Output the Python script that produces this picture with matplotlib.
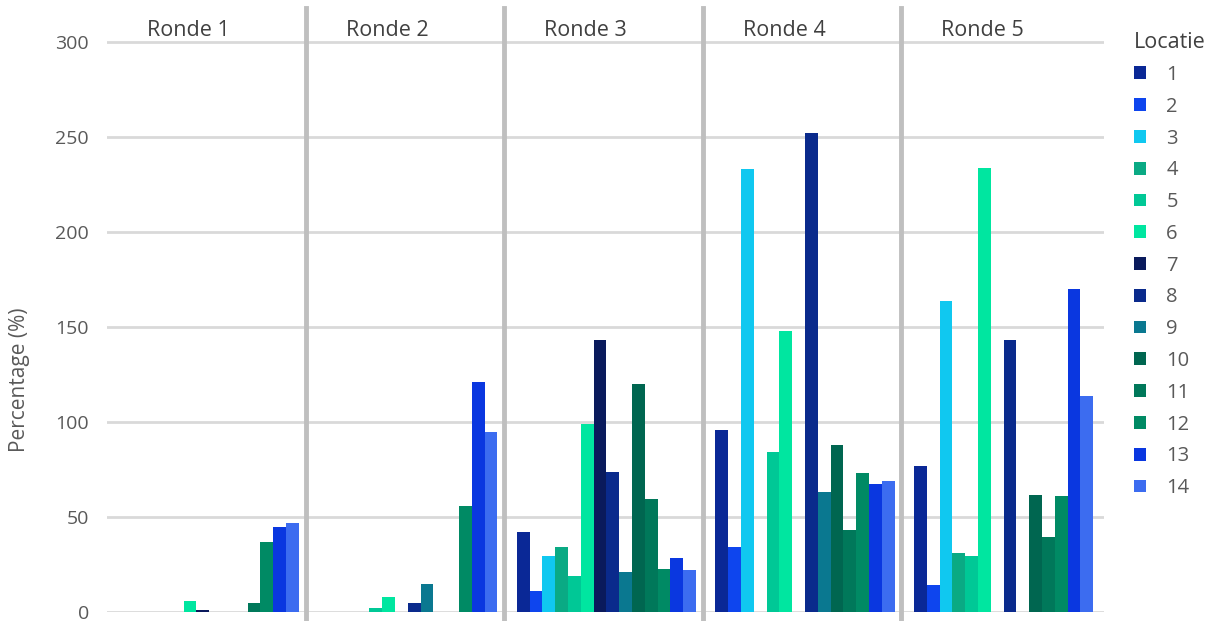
import numpy as np
import matplotlib.pyplot as plt

plt.rcParams['font.family'] = ['Open Sans', 'DejaVu Sans']

rondes = ["Ronde 1", "Ronde 2", "Ronde 3", "Ronde 4", "Ronde 5"]
locaties = [str(i) for i in range(1, 15)]

# percentage per locatie (1..14) for each ronde
ronde1 = [0, 0, 0, 0, 0, 6, 1, 0, 0, 0, 4.5, 37, 44.5, 47]
ronde2 = [0, 0, 0, 0, 2, 8, 0, 5, 15, 0, 0, 56, 121, 95]
ronde3 = [42, 11, 29.5, 34, 19, 99, 143, 73.5, 21, 120, 59.5, 22.5, 28.5, 22]
ronde4 = [96, 34, 233, 0, 84, 148, 0, 252, 63, 88, 43, 73, 67.5, 69]
ronde5 = [77, 14, 164, 31, 29.5, 233.5, 0, 143, 0, 61.5, 39.5, 61, 170, 113.5]

colors = ["#0a2896", "#0e45ee", "#10c8f0", "#0aaa84", "#00c896", "#00e6a0",
          "#0a1a5c", "#0a2a8c", "#0a7890", "#006650", "#00785a", "#008a64",
          "#0a37e0", "#3c6cf0"]

data = np.array([ronde1, ronde2, ronde3, ronde4, ronde5])

fig = plt.figure(figsize=(12.08, 6.21), dpi=100)
ax = fig.add_axes([107/1208, 9/621, 997/1208, 604/621])

w = 0.0645
start = 0.063
for j in range(len(locaties)):
    x = np.arange(len(rondes)) + start + (j + 0.5) * w
    ax.bar(x, data[:, j], width=w, color=colors[j], label=locaties[j],
           zorder=3)

ax.set_xlim(0, 5.02)
ax.set_ylim(0, 318)
ax.set_yticks([0, 50, 100, 150, 200, 250, 300])
ax.set_xticks([])
ax.grid(True, axis='y', color='#d9d9d9', linewidth=2, zorder=0)
for s in ax.spines.values():
    s.set_visible(False)
ax.tick_params(axis='y', length=0, pad=13, labelsize=14, labelcolor='#595959')

# dividers between rounds
for i in range(1, 5):
    ax.plot([i, i], [-4.5, 318], color='#bfbfbf', linewidth=3.5, zorder=4,
            clip_on=False)

for i, r in enumerate(rondes):
    ax.text(i + 0.41, 306, r, ha='center', va='center', fontsize=15.5,
            color='#404040')

ax.set_ylabel("Percentage (%)", fontsize=15, color='#595959')
ax.yaxis.set_label_coords(-0.077, 0.385)

leg = ax.legend(title="Locatie", loc='upper left', bbox_to_anchor=(1.012, 0.99),
                frameon=False, fontsize=14.5, title_fontsize=15.5,
                handlelength=0.6, handleheight=0.6, labelspacing=0.585,
                handletextpad=1.0, alignment='left')
leg.get_title().set_color('#404040')
for t in leg.get_texts():
    t.set_color('#595959')

fig.savefig("out.png", dpi=100)
